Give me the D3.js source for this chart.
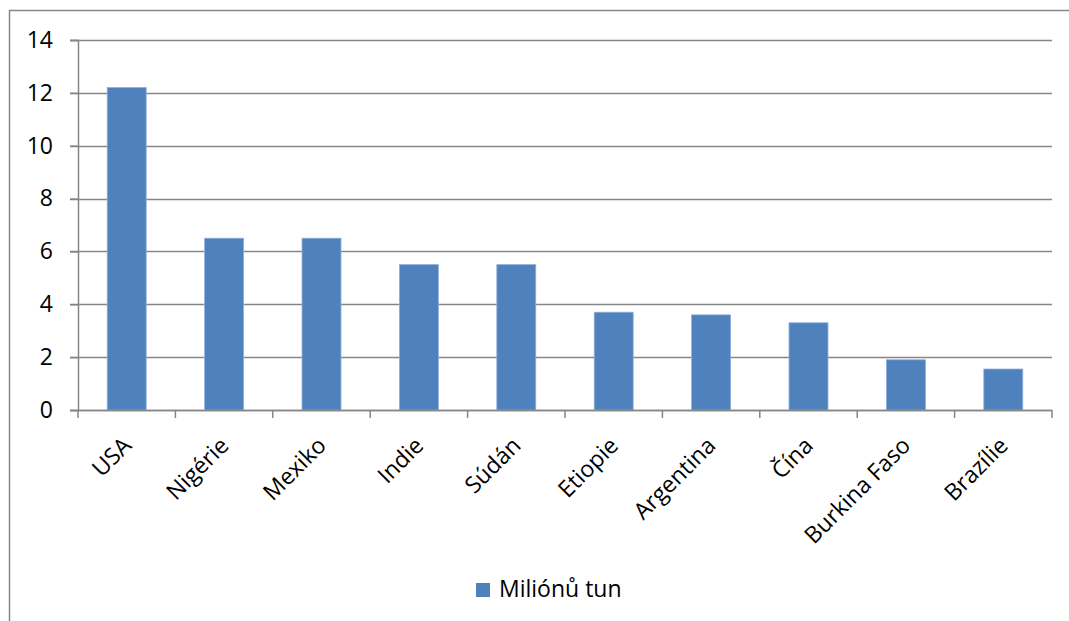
<!DOCTYPE html>
<html>
<head>
<meta charset="utf-8">
<script src="https://cdn.jsdelivr.net/npm/d3@7"></script>
<style>
  html, body { margin: 0; padding: 0; background: #fff; }
  svg { display: block; }
  text { font-family: "Open Sans", Carlito, Lato, sans-serif; fill: #000; }
</style>
</head>
<body>
<svg id="chart" width="1069" height="621"></svg>
<script>
// Production by country, millions of tonnes
const countries = ["USA", "Nigérie", "Mexiko", "Indie", "Súdán", "Etiopie", "Argentina", "Čína", "Burkina Faso", "Brazílie"];
const tonnes = [12.2, 6.5, 6.5, 5.5, 5.5, 3.7, 3.6, 3.3, 1.9, 1.55];
const yTicks = [0, 2, 4, 6, 8, 10, 12, 14];
const seriesName = "Miliónů tun";

const svg = d3.select("#chart");
const gridColor = "#868686";
const barColor = "#4F81BD";
const fontFamily = "'Open Sans', Carlito, Lato, sans-serif";
const fontSize = 23;

// Outer chart frame (top and left edges visible)
svg.append("path")
  .attr("d", "M9.5,621 V10.5 H1069")
  .attr("fill", "none")
  .attr("stroke", gridColor)
  .attr("stroke-width", 1.5);

const plot = { left: 78, right: 1052, top: 40, bottom: 410 };

const x = d3.scaleBand()
  .domain(countries)
  .range([plot.left, plot.right])
  .paddingInner(0.6)
  .paddingOuter(0.3);

const xb = d3.scaleBand().domain(countries).range([plot.left, plot.right]);

const y = d3.scaleLinear().domain([0, 14]).range([plot.bottom, plot.top]);

// Horizontal gridlines with left ticks
svg.append("g")
  .selectAll("line")
  .data(yTicks)
  .join("line")
  .attr("x1", plot.left - 8)
  .attr("x2", plot.right)
  .attr("y1", d => Math.round(y(d)) + 0.5)
  .attr("y2", d => Math.round(y(d)) + 0.5)
  .attr("stroke", gridColor)
  .attr("stroke-width", 1.5);

// Y axis
const yAxis = svg.append("g")
  .attr("transform", `translate(${plot.left},0)`)
  .call(d3.axisLeft(y).tickValues(yTicks).tickSize(8).tickPadding(17).tickFormat(d3.format("d")));
yAxis.select(".domain").attr("stroke", gridColor).attr("stroke-width", 1.5);
yAxis.selectAll(".tick line").attr("stroke", gridColor).attr("stroke-width", 1.5);
yAxis.selectAll(".tick text").attr("font-size", fontSize).attr("fill", "#000")
  .style("font-family", fontFamily);

// Bars
svg.append("g")
  .selectAll("rect")
  .data(countries)
  .join("rect")
  .attr("x", d => x(d))
  .attr("width", x.bandwidth())
  .attr("y", (d, i) => y(tonnes[i]))
  .attr("height", (d, i) => y(0) - y(tonnes[i]))
  .attr("fill", barColor)
  .attr("stroke", "#8eaedb")
  .attr("stroke-width", 0.8);

// X axis baseline with boundary ticks
const xAxisG = svg.append("g").attr("transform", `translate(0,${plot.bottom})`);
xAxisG.append("line")
  .attr("x1", plot.left).attr("x2", plot.right)
  .attr("y1", 0.5).attr("y2", 0.5)
  .attr("stroke", gridColor).attr("stroke-width", 1.5);
const bounds = countries.map(c => xb(c)).concat([plot.right]);
xAxisG.selectAll("line.tk")
  .data(bounds)
  .join("line")
  .attr("class", "tk")
  .attr("x1", d => d).attr("x2", d => d)
  .attr("y1", 0).attr("y2", 8)
  .attr("stroke", gridColor).attr("stroke-width", 1.5);

// Rotated category labels
xAxisG.selectAll("text")
  .data(countries)
  .join("text")
  .attr("text-anchor", "end")
  .attr("font-size", fontSize)
  .attr("transform", d => `translate(${xb(d) + xb.bandwidth() / 2 + 6},${37}) rotate(-45)`)
  .text(d => d);

// Legend
const legend = svg.append("g").attr("transform", "translate(476,583)");
legend.append("rect").attr("width", 14).attr("height", 14).attr("fill", barColor);
legend.append("text").attr("x", 23).attr("y", 14).attr("font-size", fontSize).text(seriesName);
</script>
</body>
</html>
